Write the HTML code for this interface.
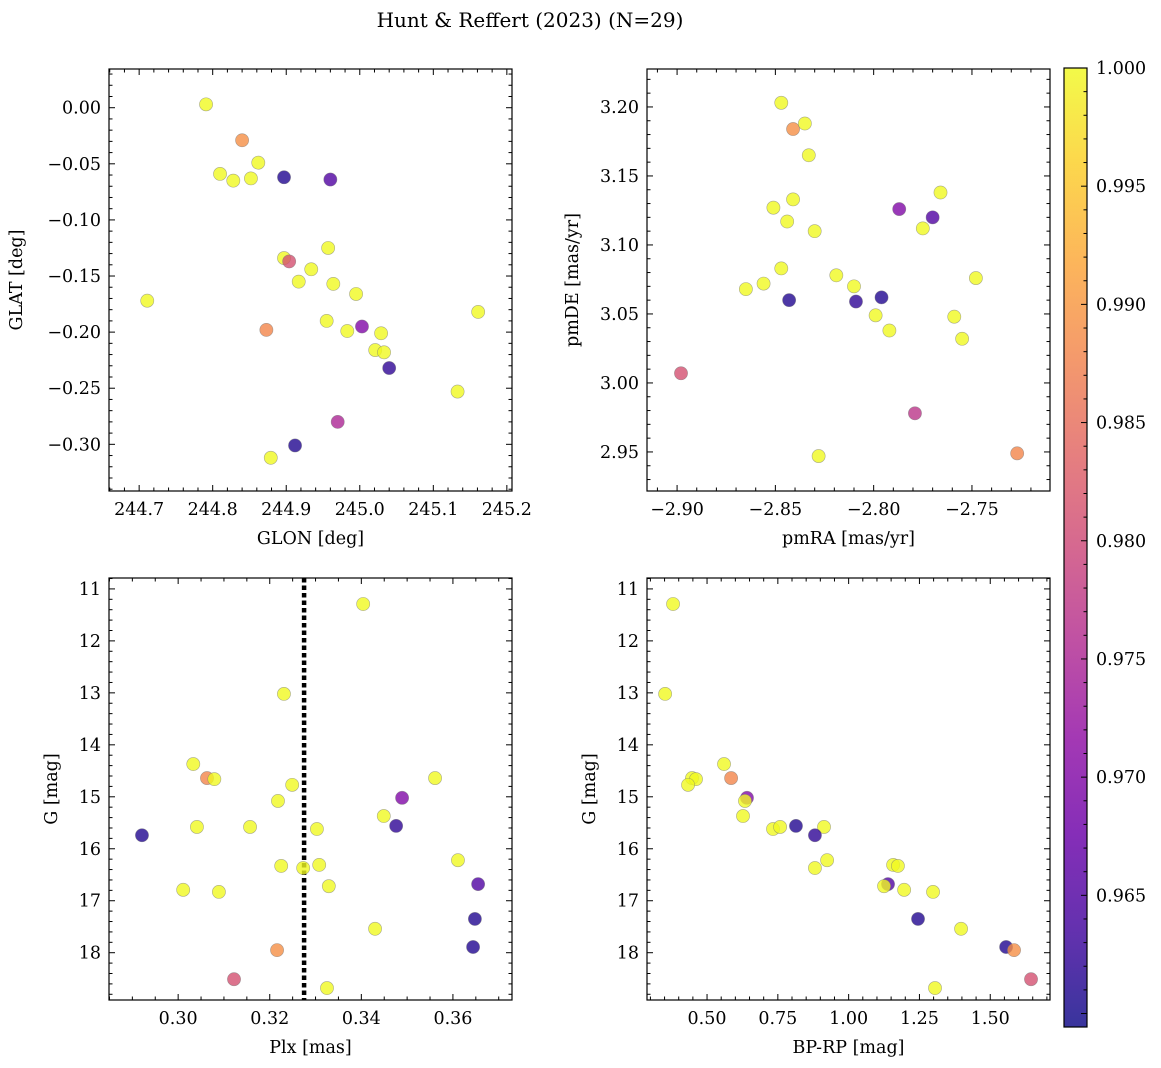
<!DOCTYPE html>
<html><head><meta charset="utf-8"><style>
html,body{margin:0;padding:0;background:#fff;}
svg{display:block;font-family:"DejaVu Serif","Liberation Serif",serif;}
</style></head><body>
<svg id="fig" width="1161" height="1068" viewBox="0 0 1161 1068" xmlns="http://www.w3.org/2000/svg">
<text x="530" y="27" font-size="20" text-anchor="middle">Hunt &amp; Reffert (2023) (N=29)</text>
</svg>
<script>
// ---- data ----
const glon = [244.711,244.791,244.840,244.810,244.828,244.852,244.862,244.897,244.960,244.897,244.904,244.917,244.934,244.957,244.964,244.995,244.955,244.983,245.003,245.029,245.021,245.033,245.040,244.873,245.133,245.161,244.970,244.912,244.879];
const glat = [-0.172,0.003,-0.029,-0.059,-0.065,-0.063,-0.049,-0.062,-0.064,-0.134,-0.137,-0.155,-0.144,-0.125,-0.157,-0.166,-0.190,-0.199,-0.195,-0.201,-0.216,-0.218,-0.232,-0.198,-0.253,-0.182,-0.280,-0.301,-0.312];
const prob1 = [1,1,0.989,1,1,1,1,0.961,0.965,1,0.981,1,1,1,1,1,1,1,0.970,1,1,1,0.962,0.988,1,1,0.975,0.961,1];

const pmra = [-2.847,-2.841,-2.835,-2.833,-2.841,-2.851,-2.844,-2.830,-2.766,-2.787,-2.770,-2.775,-2.847,-2.819,-2.856,-2.865,-2.810,-2.843,-2.809,-2.796,-2.799,-2.792,-2.748,-2.759,-2.755,-2.898,-2.779,-2.828,-2.727];
const pmde = [3.203,3.184,3.188,3.165,3.133,3.127,3.117,3.110,3.138,3.126,3.120,3.112,3.083,3.078,3.072,3.068,3.070,3.060,3.059,3.062,3.049,3.038,3.076,3.048,3.032,3.007,2.978,2.947,2.949];
const prob2 = [1,0.989,1,1,1,1,1,1,1,0.970,0.965,1,1,1,1,1,1,0.961,0.962,0.961,1,1,1,1,1,0.981,0.977,1,0.988];

const plx = [0.2921,0.3011,0.3033,0.3041,0.3063,0.3079,0.3089,0.3122,0.3157,0.3218,0.3225,0.3231,0.3249,0.3216,0.3273,0.3303,0.3308,0.3329,0.3325,0.3404,0.3430,0.3449,0.3476,0.3489,0.3561,0.3611,0.3655,0.3648,0.3644];
const gmag3 = [15.74,16.79,14.37,15.58,14.64,14.66,16.83,18.51,15.58,15.08,16.33,13.02,14.77,17.95,16.37,15.62,16.31,16.72,18.68,11.29,17.54,15.37,15.56,15.02,14.64,16.22,16.68,17.35,17.89];
const prob3 = [0.961,1,1,1,0.988,1,1,0.981,1,1,1,1,1,0.989,1,1,1,1,1,1,1,1,0.962,0.970,1,1,0.965,0.961,0.961];
const plxMean = [0.3275];

const bprp = [0.380,0.352,0.560,0.447,0.461,0.433,0.585,0.641,0.634,0.627,0.733,0.758,0.814,0.913,0.881,0.881,0.924,1.157,1.174,1.139,1.125,1.196,1.298,1.245,1.397,1.556,1.584,1.644,1.305];
const gmag4 = [11.29,13.02,14.37,14.64,14.66,14.77,14.64,15.02,15.08,15.37,15.62,15.58,15.56,15.58,15.74,16.37,16.22,16.31,16.33,16.68,16.72,16.79,16.83,17.35,17.54,17.89,17.95,18.51,18.68];
const prob4 = [1,1,1,1,1,1,0.988,0.970,1,1,1,1,0.961,1,0.962,1,1,1,1,0.965,1,1,1,0.961,1,0.961,0.989,0.981,1];

const ticks1x = ["244.7","244.8","244.9","245.0","245.1","245.2"];
const ticks1y = ["0.00","\u22120.05","\u22120.10","\u22120.15","\u22120.20","\u22120.25","\u22120.30"];
const ticks2x = ["\u22122.90","\u22122.85","\u22122.80","\u22122.75"];
const ticks2y = ["3.20","3.15","3.10","3.05","3.00","2.95"];
const ticks3x = ["0.30","0.32","0.34","0.36"];
const ticksG = ["11","12","13","14","15","16","17","18"];
const ticks4x = ["0.50","0.75","1.00","1.25","1.50"];
const ticksCb = ["0.965","0.970","0.975","0.980","0.985","0.990","0.995","1.000"];
const cbMin = 0.95943, cbMax = 1.0;

// ---- rendering ----
const NS = "http://www.w3.org/2000/svg";
const svg = document.getElementById('fig');
const FS = 17.5;
function mk(tag, attrs, parent){ const e=document.createElementNS(NS,tag); for(const k in attrs) e.setAttribute(k,attrs[k]); (parent||svg).appendChild(e); return e; }
const plasma=[[13,8,135],[65,4,157],[106,0,168],[143,13,164],[177,42,144],[204,71,120],[225,100,98],[242,132,75],[252,166,54],[252,206,37],[240,249,33]];
function cmap(v){ let t=(v-cbMin)/(cbMax-cbMin); t=Math.max(0,Math.min(1,t)); const f=t*10; const i=Math.min(9,Math.floor(f)); const r=f-i; const a=plasma[i], b=plasma[i+1]; return 'rgb('+a.map((c,k)=>Math.round(c+(b[k]-c)*r)).join(',')+')'; }
function num(s){ return parseFloat(s.replace('\u2212','-')); }

function panel(o){
  const g=mk('g',{});
  
  
  const sx=v=>o.x0+(v-o.xmin)/(o.xmax-o.xmin)*(o.x1-o.x0);
  const sy=o.yinv ? (v=>o.y0+(v-o.ymin)/(o.ymax-o.ymin)*(o.y1-o.y0)) : (v=>o.y1-(v-o.ymin)/(o.ymax-o.ymin)*(o.y1-o.y0));
  const tk=mk('g',{stroke:'#000','stroke-width':1},g);
  
  
  const xs=Math.ceil(o.xmin/o.xminor-1e-6);
  for(let k=xs; k*o.xminor<=o.xmax+1e-9; k++){ const v=k*o.xminor; const px=sx(v); const isMaj=Math.abs(v/o.xmajor-Math.round(v/o.xmajor))<1e-4; const L=isMaj?6:3.5;
    mk('line',{x1:px,x2:px,y1:o.y1,y2:o.y1-L},tk); mk('line',{x1:px,x2:px,y1:o.y0,y2:o.y0+L},tk); }
  const ys=Math.ceil(o.ymin/o.yminor-1e-6);
  for(let k=ys; k*o.yminor<=o.ymax+1e-9; k++){ const v=k*o.yminor; const py=sy(v); const isMaj=Math.abs(v/o.ymajor-Math.round(v/o.ymajor))<1e-4; const L=isMaj?6:3.5;
    mk('line',{x1:o.x0,x2:o.x0+L,y1:py,y2:py},tk); mk('line',{x1:o.x1,x2:o.x1-L,y1:py,y2:py},tk); }
  o.xt.forEach(s=>{ const t=mk('text',{x:sx(num(s)),y:o.y1+24,'font-size':FS,'text-anchor':'middle'},g); t.textContent=s;
      });
  o.yt.forEach(s=>{ const t=mk('text',{x:o.x0-8,y:sy(num(s))+6,'font-size':FS,'text-anchor':'end'},g); t.textContent=s;
      });
  const xl=mk('text',{x:(o.x0+o.x1)/2,y:o.y1+53,'font-size':FS,'text-anchor':'middle'},g); xl.textContent=o.xlabel;
   
  const yl=mk('text',{x:0,y:0,'font-size':FS,'text-anchor':'middle',transform:'translate('+o.ylx+','+((o.y0+o.y1)/2)+') rotate(-90)'},g); yl.textContent=o.ylabel;
   
  const cp=mk('clipPath',{id:o.name+'-clip'},g); mk('rect',{x:o.x0,y:o.y0,width:o.x1-o.x0,height:o.y1-o.y0},cp);
  const pg=mk('g',{'clip-path':'url(#'+o.name+'-clip)'},g);
  if(o.vline){ const vl=mk('line',{x1:sx(o.vline[0]),x2:sx(o.vline[0]),y1:o.y0,y2:o.y1,stroke:'#000','stroke-width':4.5,'stroke-dasharray':'4.5,3'},pg);
      }
  for(let i=0;i<o.xd.length;i++){
    const c=mk('circle',{cx:sx(o.xd[i]),cy:sy(o.yd[i]),r:6.6,fill:cmap(o.pd[i]),'fill-opacity':0.8,stroke:'#777','stroke-opacity':0.6,'stroke-width':0.6},pg);
    
    
  }
  const fr=mk('rect',{x:o.x0,y:o.y0,width:o.x1-o.x0,height:o.y1-o.y0,fill:'none',stroke:'#000','stroke-width':1.2},g);
   
}

panel({name:'glon-glat-panel',x0:109,x1:512,y0:69,y1:491,xmin:244.659,xmax:245.207,ymin:-0.3416,ymax:0.0345,xmajor:0.1,xminor:0.02,ymajor:0.05,yminor:0.01,xt:ticks1x,yt:ticks1y,xd:glon,yd:glat,pd:prob1,xlabel:'GLON [deg]',ylabel:'GLAT [deg]',ylx:22});
panel({name:'pm-panel',x0:647,x1:1050,y0:69,y1:491,xmin:-2.9153,xmax:-2.7103,ymin:2.9217,ymax:3.2275,xmajor:0.05,xminor:0.01,ymajor:0.05,yminor:0.01,xt:ticks2x,yt:ticks2y,xd:pmra,yd:pmde,pd:prob2,xlabel:'pmRA [mas/yr]',ylabel:'pmDE [mas/yr]',ylx:578});
panel({name:'plx-g-panel',x0:109,x1:512,y0:578,y1:1000,xmin:0.2849,xmax:0.3729,ymin:10.79,ymax:18.91,yinv:true,xmajor:0.02,xminor:0.005,ymajor:1,yminor:0.2,xt:ticks3x,yt:ticksG,xd:plx,yd:gmag3,pd:prob3,vline:plxMean,xlabel:'Plx [mas]',ylabel:'G [mag]',ylx:57});
panel({name:'cmd-panel',x0:647,x1:1050,y0:578,y1:1000,xmin:0.288,xmax:1.711,ymin:10.79,ymax:18.91,yinv:true,xmajor:0.25,xminor:0.05,ymajor:1,yminor:0.2,xt:ticks4x,yt:ticksG,xd:bprp,yd:gmag4,pd:prob4,xlabel:'BP-RP [mag]',ylabel:'G [mag]',ylx:595});

(function(){
  const x0=1064,x1=1087,y0=68,y1=1027;
  const defs=mk('defs',{}); const lg=mk('linearGradient',{id:'cbgrad',x1:0,y1:1,x2:0,y2:0},defs);
  plasma.forEach((c,i)=>mk('stop',{offset:(i*10)+'%','stop-color':'rgb('+c.join(',')+')'},lg));
  const g=mk('g',{});
   
  mk('rect',{x:x0,y:y0,width:x1-x0,height:y1-y0,fill:'url(#cbgrad)','fill-opacity':0.82},g);
  const sy=v=>y1-(v-cbMin)/(cbMax-cbMin)*(y1-y0);
  for(let k=Math.ceil(cbMin/0.001); k<=1000; k++){ const v=k/1000; const py=sy(v); const maj=(k%5===0);
    mk('line',{x1:x1,x2:x1-(maj?6:3.5),y1:py,y2:py,stroke:'#000','stroke-width':1},g); }
  ticksCb.forEach(s=>{ const t=mk('text',{x:x1+9,y:sy(num(s))+6,'font-size':FS},g); t.textContent=s;
      });
  mk('rect',{x:x0,y:y0,width:x1-x0,height:y1-y0,fill:'none',stroke:'#000','stroke-width':1.2},g);
})();
</script>
</body></html>
